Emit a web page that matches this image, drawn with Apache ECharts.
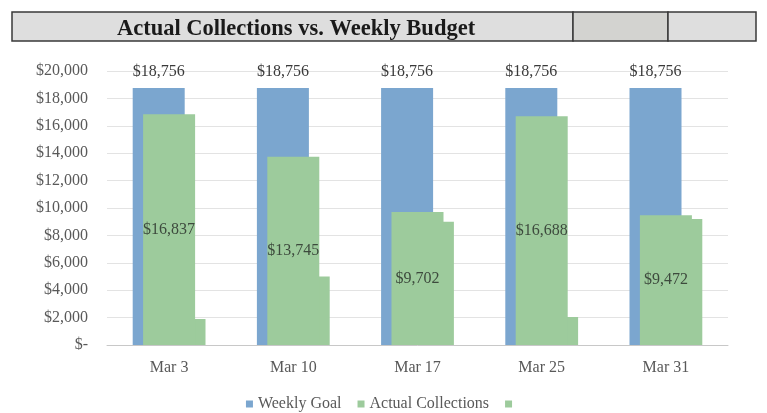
<!DOCTYPE html>
<html>
<head>
<meta charset="utf-8">
<script src="https://cdn.jsdelivr.net/npm/echarts@6/dist/echarts.min.js"></script>
<style>
  html, body { margin: 0; padding: 0; background: #fff; }
  #chart { width: 767px; height: 413px; }
</style>
</head>
<body>
<div id="chart"></div>
<script>
const categories = ['Mar 3', 'Mar 10', 'Mar 17', 'Mar 25', 'Mar 31']
const weeklyGoal = [18756, 18756, 18756, 18756, 18756]
const actualCollections = [16837, 13745, 9702, 16688, 9472]
const extraSeries = [1900, 5000, 9000, 2050, 9200]

const serif = '"Liberation Serif", "DejaVu Serif", serif'
const money = v => '$' + Number(v).toLocaleString('en-US')

const chart = echarts.init(document.getElementById('chart'))
chart.setOption({
  animation: false,
  textStyle: { fontFamily: serif },
  graphic: [
    { type: 'rect', shape: { x: 12, y: 12, width: 561, height: 29 },
      style: { fill: '#dedede', stroke: '#3a3a3a', lineWidth: 1.5 } },
    { type: 'rect', shape: { x: 573, y: 12, width: 95, height: 29 },
      style: { fill: '#d3d3d0', stroke: '#3a3a3a', lineWidth: 1.5 } },
    { type: 'rect', shape: { x: 668, y: 12, width: 88, height: 29 },
      style: { fill: '#dedede', stroke: '#3a3a3a', lineWidth: 1.5 } }
  ],
  title: {
    text: 'Actual Collections vs. Weekly Budget',
    left: 112, top: 13,
    textStyle: { fontFamily: serif, fontSize: 22.5, fontWeight: 'bold', color: '#1a1a1a' }
  },
  grid: { left: 107, right: 39, top: 71, bottom: 68 },
  legend: {
    top: 391,
    left: 'center',
    icon: 'rect',
    itemWidth: 7,
    itemHeight: 7,
    itemGap: 16,
    data: ['Weekly Goal', 'Actual Collections', ' '],
    textStyle: { fontFamily: serif, fontSize: 16, color: '#595959' }
  },
  xAxis: {
    type: 'category',
    data: categories,
    axisLine: { lineStyle: { color: '#c8c8c8' } },
    axisTick: { length: 5, lineStyle: { color: '#c8c8c8' } },
    axisLabel: { fontFamily: serif, fontSize: 16, color: '#595959', margin: 15 }
  },
  yAxis: {
    type: 'value',
    min: 0,
    max: 20000,
    interval: 2000,
    axisLine: { show: false },
    axisTick: { show: false },
    splitLine: { lineStyle: { color: '#e3e3e3' } },
    axisLabel: {
      fontFamily: serif, fontSize: 16, color: '#595959', margin: 19,
      formatter: v => (v === 0 ? '$-' : money(v))
    }
  },
  series: [
    {
      name: 'Weekly Goal',
      type: 'bar',
      data: weeklyGoal,
      barWidth: 52,
      barGap: '-80%',
      z: 2,
      itemStyle: { color: '#7ba6cf' },
      label: {
        show: true, position: 'top', distance: 8,
        fontFamily: serif, fontSize: 16, color: '#3a3a3a',
        formatter: p => money(p.value)
      }
    },
    {
      name: 'Actual Collections',
      type: 'bar',
      data: actualCollections,
      barWidth: 52,
      z: 3,
      itemStyle: { color: '#9dcb9c' },
      label: {
        show: true, position: 'inside',
        fontFamily: serif, fontSize: 16, color: '#3d4a3d',
        formatter: p => money(p.value)
      }
    },
    {
      name: ' ',
      type: 'bar',
      data: extraSeries,
      barWidth: 52,
      z: 1,
      itemStyle: { color: '#9dcb9c' }
    }
  ]
})
</script>
</body>
</html>
